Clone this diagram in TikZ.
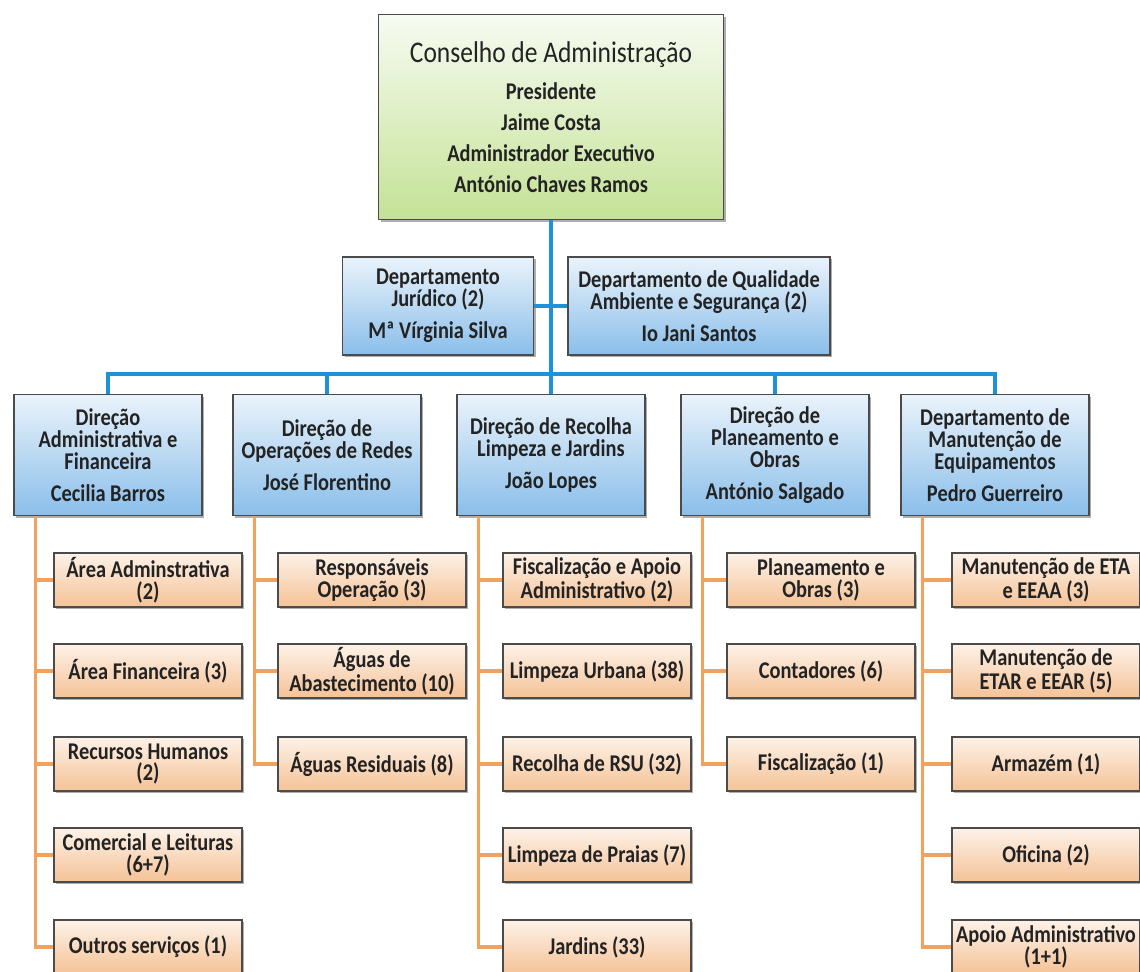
\documentclass[tikz,border=0pt]{standalone}
\usepackage{fontspec}
\setmainfont{Carlito}[FakeStretch=0.85]
\usepackage{tikz}
\usetikzlibrary{positioning, shadows}
\usepackage{xcolor}
\definecolor{framegray}{RGB}{75,75,75}
\definecolor{textgray}{RGB}{35,35,35}
\definecolor{blueTop}{RGB}{234,243,251}
\definecolor{blueBot}{RGB}{138,190,234}
\definecolor{peachTop}{RGB}{253,242,232}
\definecolor{peachBot}{RGB}{245,194,150}
\definecolor{greenTop}{RGB}{247,251,242}
\definecolor{greenBot}{RGB}{196,226,150}
\definecolor{lineblue}{RGB}{30,146,216}
\definecolor{lineorange}{RGB}{242,162,92}

\begin{document}
\begin{tikzpicture}[
			x=0.5pt, y=-0.5pt,
			box/.style={rectangle, draw=framegray, thick, align=center, inner sep=1pt,
				text=textgray, font=\fontsize{12}{11}\selectfont\bfseries,
				drop shadow={shadow xshift=1pt, shadow yshift=-1.2pt, opacity=0.45, fill=black!70}},
			board/.style={box, top color=greenTop, bottom color=greenBot,
				minimum width=172.5pt, minimum height=102.5pt, font=\fontsize{12}{15.5}\selectfont\bfseries},
			staff/.style={box, top color=blueTop, bottom color=blueBot, minimum height=49pt},
			dir/.style={box, top color=blueTop, bottom color=blueBot,
				minimum width=94pt, minimum height=60.5pt},
			unit/.style={box, top color=peachTop, bottom color=peachBot,
				minimum width=94pt, minimum height=27pt, font=\fontsize{12}{10.8}\selectfont\bfseries},
			trunk/.style={draw=lineblue, line width=2pt},
			branch/.style={draw=lineorange, line width=1.6pt}
			]
			\useasboundingbox (0,0) rectangle (1140,972);
			
			% Совет — верхний узел
			\node[board] (board) at (551,117) {{\fontsize{15}{18}\selectfont\mdseries Conselho de Administração}\\[3pt]
				Presidente\\Jaime Costa\\Administrador Executivo\\António Chaves Ramos};
			
			% Отделы при совете
			\node[staff, minimum width=95.5pt] (jur) at (438,306) {Departamento\\Jurídico (2)\\[5pt]Mª Vírginia Silva};
			\node[staff, minimum width=131pt] (qual) at (699,306) {Departamento de Qualidade\\Ambiente e Segurança (2)\\[5pt]Io Jani Santos};
			
			% Дирекции
			\node[dir] (d1) at (108,455) {Direção\\Administrativa e\\Financeira\\[5pt]Cecilia Barros};
			\node[dir] (d2) at (327,455) {Direção de\\Operações de Redes\\[5pt]José Florentino};
			\node[dir] (d3) at (551,455) {Direção de Recolha\\Limpeza e Jardins\\[5pt]João Lopes};
			\node[dir] (d4) at (775,455) {Direção de\\Planeamento e\\Obras\\[5pt]António Salgado};
			\node[dir] (d5) at (995,455) {Departamento de\\Manutenção de\\Equipamentos\\[5pt]Pedro Guerreiro};
			
			% Подразделения — колонка 1
			\node[unit] (u11) at (148,580) {Área Adminstrativa\\(2)};
			\node[unit] (u12) at (148,671) {Área Financeira (3)};
			\node[unit] (u13) at (148,764) {Recursos Humanos\\(2)};
			\node[unit] (u14) at (148,855) {Comercial e Leituras\\(6+7)};
			\node[unit] (u15) at (148,947) {Outros serviços (1)};
			
			% колонка 2
			\node[unit] (u21) at (372,580) {Responsáveis\\Operação (3)};
			\node[unit] (u22) at (372,671) {Águas de\\Abastecimento (10)};
			\node[unit] (u23) at (372,764) {Águas Residuais (8)};
			
			% колонка 3
			\node[unit] (u31) at (597,580) {Fiscalização e Apoio\\Administrativo (2)};
			\node[unit] (u32) at (597,671) {Limpeza Urbana (38)};
			\node[unit] (u33) at (597,764) {Recolha de RSU (32)};
			\node[unit] (u34) at (597,855) {Limpeza de Praias (7)};
			\node[unit] (u35) at (597,947) {Jardins (33)};
			
			% колонка 4
			\node[unit] (u41) at (821,580) {Planeamento e\\Obras (3)};
			\node[unit] (u42) at (821,671) {Contadores (6)};
			\node[unit] (u43) at (821,764) {Fiscalização (1)};
			
			% колонка 5
			\node[unit] (u51) at (1046,580) {Manutenção de ETA\\e EEAA (3)};
			\node[unit] (u52) at (1046,671) {Manutenção de\\ETAR e EEAR (5)};
			\node[unit] (u53) at (1046,764) {Armazém (1)};
			\node[unit] (u54) at (1046,855) {Oficina (2)};
			\node[unit] (u55) at (1046,947) {Apoio Administrativo\\(1+1)};
			
			% Синие линии от совета
			\coordinate (bus) at (551,374);
			\draw[trunk] (board) -- (bus);
			\draw[trunk] (jur) -- (jur -| bus);
			\draw[trunk] (qual) -- (qual -| bus);
			\draw[trunk] (bus) -| (d1);
			\draw[trunk] (bus) -| (d2);
			\draw[trunk] (bus) -- (d3);
			\draw[trunk] (bus) -| (d4);
			\draw[trunk] (bus) -| (d5);
			
			% Оранжевые линии к подразделениям
			\draw[branch] ([xshift=11pt]d1.south west) |- (u11);
			\draw[branch] ([xshift=11pt]d1.south west) |- (u12);
			\draw[branch] ([xshift=11pt]d1.south west) |- (u13);
			\draw[branch] ([xshift=11pt]d1.south west) |- (u14);
			\draw[branch] ([xshift=11pt]d1.south west) |- (u15);
			\draw[branch] ([xshift=11pt]d2.south west) |- (u21);
			\draw[branch] ([xshift=11pt]d2.south west) |- (u22);
			\draw[branch] ([xshift=11pt]d2.south west) |- (u23);
			\draw[branch] ([xshift=11pt]d3.south west) |- (u31);
			\draw[branch] ([xshift=11pt]d3.south west) |- (u32);
			\draw[branch] ([xshift=11pt]d3.south west) |- (u33);
			\draw[branch] ([xshift=11pt]d3.south west) |- (u34);
			\draw[branch] ([xshift=11pt]d3.south west) |- (u35);
			\draw[branch] ([xshift=11pt]d4.south west) |- (u41);
			\draw[branch] ([xshift=11pt]d4.south west) |- (u42);
			\draw[branch] ([xshift=11pt]d4.south west) |- (u43);
			\draw[branch] ([xshift=11pt]d5.south west) |- (u51);
			\draw[branch] ([xshift=11pt]d5.south west) |- (u52);
			\draw[branch] ([xshift=11pt]d5.south west) |- (u53);
			\draw[branch] ([xshift=11pt]d5.south west) |- (u54);
			\draw[branch] ([xshift=11pt]d5.south west) |- (u55);
			
		\end{tikzpicture}
\end{document}
